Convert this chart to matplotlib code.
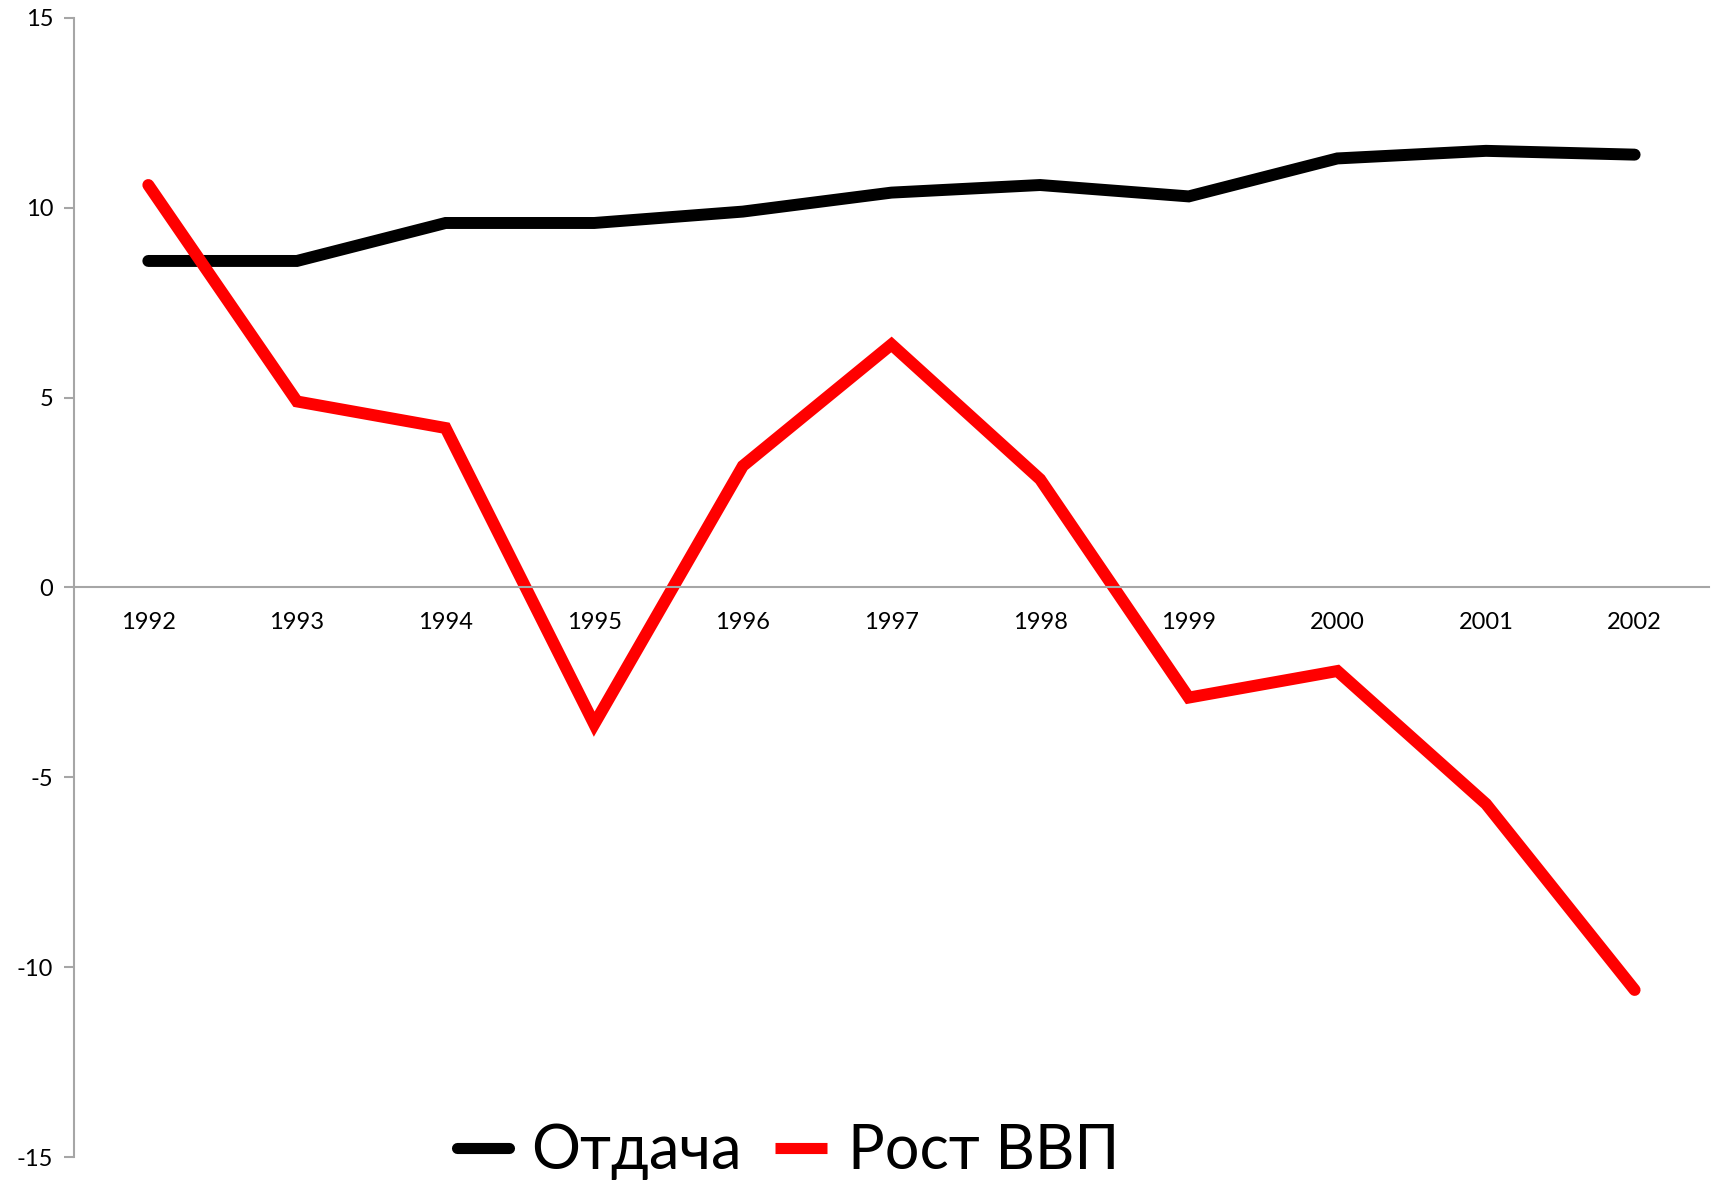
import matplotlib.pyplot as plt
from matplotlib.lines import Line2D

plt.rcParams['font.family'] = ['Lato', 'DejaVu Sans']

years = ['1992', '1993', '1994', '1995', '1996', '1997', '1998', '1999', '2000', '2001', '2002']
otdacha = [8.6, 8.6, 9.6, 9.6, 9.9, 10.4, 10.6, 10.3, 11.3, 11.5, 11.4]
rost_vvp = [10.6, 4.9, 4.2, -3.6, 3.2, 6.4, 2.85, -2.9, -2.2, -5.7, -10.6]

grey = '#a6a6a6'

fig = plt.figure(figsize=(17.29, 11.81), dpi=100)
ax = fig.add_axes([0.0428, 0.0203, 0.9456, 0.9645])

x = range(len(years))
ax.plot(x, otdacha, color='black', lw=8.6, solid_capstyle='round', solid_joinstyle='miter')
ax.plot(x, rost_vvp, color='#ff0000', lw=8.6, solid_capstyle='round', solid_joinstyle='miter')

ax.set_xlim(-0.5, len(years) - 0.5)
ax.set_ylim(-15, 15)
ax.set_yticks([-15, -10, -5, 0, 5, 10, 15])
ax.set_yticklabels(['-15', '-10', '-5', '0', '5', '10', '15'])
ax.set_xticks(list(x))
ax.set_xticklabels(years)

for s in ['top', 'right']:
    ax.spines[s].set_visible(False)
ax.spines['left'].set_color(grey)
ax.spines['left'].set_linewidth(1.5)
ax.spines['bottom'].set_position(('data', 0))
ax.spines['bottom'].set_color(grey)
ax.spines['bottom'].set_linewidth(1.5)

ax.tick_params(axis='y', direction='out', length=7, width=1.5, color=grey, labelsize=17, pad=8)
ax.tick_params(axis='x', length=0, labelsize=17, pad=18)

handles = [Line2D([], [], color='black', lw=8, solid_capstyle='round'),
           Line2D([], [], color='#ff0000', lw=8, solid_capstyle='butt')]
fig.legend(handles, ['Отдача', 'Рост ВВП'], loc='center', bbox_to_anchor=(0.456, 0.025),
           ncol=2, frameon=False, fontsize=44, handlelength=0.85, handletextpad=0.35,
           columnspacing=0.55, borderpad=0)

fig.savefig('out.png', dpi=100)
